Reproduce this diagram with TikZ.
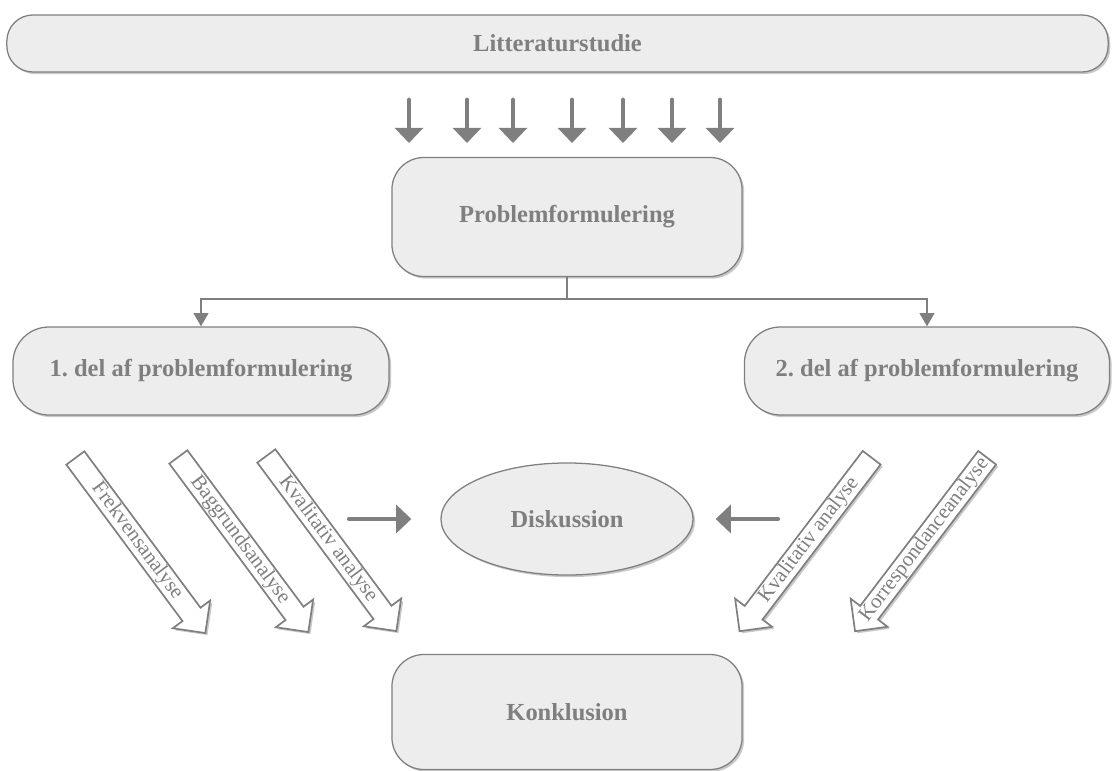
\documentclass[tikz,border=0pt]{standalone}
\usepackage{fontspec}
\setmainfont{Liberation Serif}
\usetikzlibrary{shapes,arrows.meta,positioning,shadows}
\definecolor{boxgray}{HTML}{EDEDED}
\definecolor{linegray}{HTML}{7F7F7F}
\frenchspacing

\begin{document}
\begin{tikzpicture}[x=0.025cm, y=-0.025cm] % Styles
\tikzstyle{stage}=[draw=linegray, line width=0.9pt, fill=boxgray, rounded corners=0.8cm, align=center, text=linegray, font=\fontsize{17.4}{20}\selectfont\bfseries, drop shadow={shadow xshift=1.5pt, shadow yshift=-1.5pt, opacity=0.3, fill=black!70}]
\tikzstyle{method}=[single arrow, draw=linegray, line width=1.2pt, fill=white, text=linegray, font=\fontsize{14.9}{16}\selectfont, minimum height=5.45cm, single arrow head extend=0.3cm, inner ysep=0.6pt, inner xsep=0pt, drop shadow={shadow xshift=1.5pt, shadow yshift=-1.5pt, opacity=0.3, fill=black!70}]
\tikzstyle{feed}=[linegray, line width=3.5pt, line cap=round, -{Triangle[width=0.7cm, length=0.38cm]}]
\tikzstyle{split}=[linegray, line width=1pt, -{Triangle[width=0.37cm, length=0.33cm]}]
\useasboundingbox (0,0) rectangle (1114,771); % Nodes
\node[stage, minimum width=27.525cm, minimum height=1.425cm, rounded corners=0.65cm] (lit) at (557.5,43.5) {Litteraturstudie};
\node[stage, minimum width=8.75cm, minimum height=2.975cm] (prob) at (567,217) {Problemformulering};
\node[stage, minimum width=9.4cm, minimum height=2.2cm, rounded corners=0.9cm] (del1) at (201,371) {1. del af problemformulering};
\node[stage, minimum width=9.125cm, minimum height=2.2cm, rounded corners=0.9cm] (del2) at (927,371) {2. del af problemformulering};
\node[stage, ellipse, minimum width=6.3cm, minimum height=2.8cm] (dis) at (567,519) {Diskussion};
\node[stage, minimum width=8.75cm, minimum height=2.875cm] (kon) at (567,712) {Konklusion}; % Analyses
\node[method, rotate=-53.4] (frek) at (137,541) {Frekvensanalyse};
\node[method, rotate=-53.4] (bagg) at (240,540) {Baggrundsanalyse};
\node[method, rotate=-53.4] (kval1) at (328,539) {Kvalitativ analyse};
\node[method, rotate=52.7, shape border rotate=180] (kval2) at (809,540) {Kvalitativ analyse};
\node[method, rotate=52.7, shape border rotate=180] (korr) at (924.5,540) {Korrespondanceanalyse}; % Connections
\foreach \x [count=\i] in {409,467,513,572,623,672,720} {
  \coordinate (in\i) at (\x,100);
  \coordinate (out\i) at (\x,143);
  \draw[feed] (in\i) -- (out\i);
}
\coordinate (fork) at ([yshift=-0.55cm]prob.south);
\draw[linegray, line width=1pt] (prob.south) -- (fork);
\draw[split] (fork) -| (del1.north);
\draw[split] (fork) -| (del2.north);
\draw[feed] ([xshift=-2.275cm]dis.west) -- ([xshift=-0.725cm]dis.west);
\draw[feed] ([xshift=2.1cm]dis.east) -- ([xshift=0.55cm]dis.east);
\end{tikzpicture}
\end{document}
